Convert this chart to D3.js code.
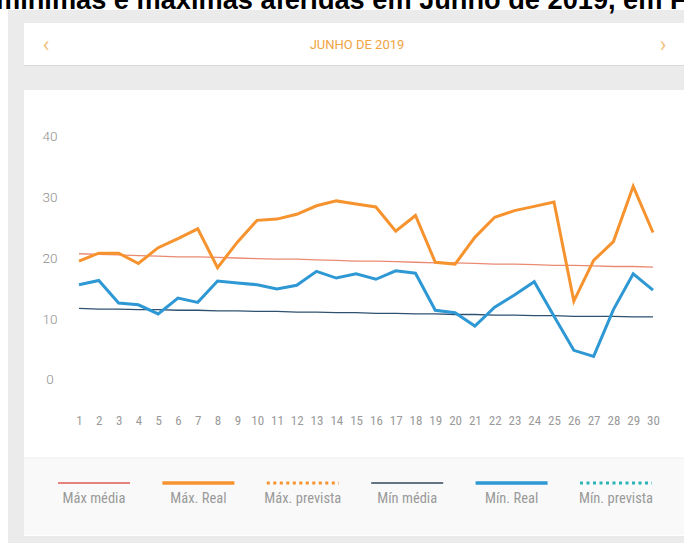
<!DOCTYPE html>
<html>
<head>
<meta charset="utf-8">
<script src="https://cdn.jsdelivr.net/npm/d3@7/dist/d3.min.js"></script>
<style>
  body { margin:0; background:#fff; overflow:hidden; }
  svg { display:block; }
</style>
</head>
<body>
<div id="chart"></div>
<script>
// dados - temperaturas junho 2019
var dias = d3.range(1, 31);
var maxReal = [19.5,20.8,20.8,19.1,21.7,23.2,24.8,18.4,22.6,26.2,26.4,27.2,28.6,29.4,28.9,
               28.4,24.4,27.0,19.3,19.0,23.4,26.7,27.8,28.5,29.2,12.9,19.6,22.7,31.8,24.2];
var minReal = [15.6,16.3,12.6,12.3,10.8,13.4,12.7,16.2,15.9,15.6,14.9,15.5,17.8,16.7,17.4,
               16.5,17.9,17.5,11.4,11.0,8.8,11.9,13.9,16.1,10.4,4.8,3.8,11.5,17.4,14.7];
var maxMedia = [20.7,20.6,20.5,20.4,20.3,20.2,20.2,20.1,20.0,19.9,19.8,19.8,19.7,19.6,19.5,
                19.5,19.4,19.3,19.2,19.2,19.1,19.0,19.0,18.9,18.8,18.8,18.7,18.6,18.6,18.5];
var minMedia = [11.7,11.6,11.6,11.5,11.5,11.4,11.4,11.3,11.3,11.2,11.2,11.1,11.1,11.0,11.0,
                10.9,10.9,10.8,10.8,10.7,10.7,10.6,10.6,10.5,10.5,10.4,10.4,10.4,10.3,10.3];
var yTicks = [0,10,20,30,40];
var legenda = ['Máx média','Máx. Real','Máx. prevista','Mín média','Mín. Real','Mín. prevista'];
var corLeg = ['#dd5a55','#f6932f','#f6932f','#33475b','#2e98d4','#2bb3b8'];
var largLeg = [1.5,3.5,3,1.5,3.5,3];
var tracoLeg = [null,null,'3,3.5',null,null,'3,3.5'];

var w = 684, h = 543;
var svg = d3.select("#chart").append("svg").attr("width",w).attr("height",h);

// fundo cinza
svg.append("rect").attr("x",8).attr("y",10).attr("width",w).attr("height",h).attr("fill","#ebebeb");

// titulo (cortado no topo, como no original)
svg.append("text")
   .attr("x",-4).attr("y",9)
   .attr("font-family","Liberation Sans, Arial, sans-serif")
   .attr("font-weight","bold").attr("font-size","27.2px").attr("fill","#000")
   .text("mínimas e máximas aferidas em Junho de 2019, em F");

// cartao do cabecalho
svg.append("rect").attr("x",24).attr("y",24).attr("width",680).attr("height",42).attr("fill","#d9d9d9");
svg.append("rect").attr("x",24).attr("y",23).attr("width",680).attr("height",42).attr("fill","#fff");
var fonte = "'Roboto Condensed','Liberation Sans Narrow',Roboto,sans-serif";
svg.append("text").attr("x",46).attr("y",44).attr("dy","0.35em").attr("text-anchor","middle")
   .attr("font-family","Roboto,sans-serif").attr("font-size","22px").attr("fill","#f2c27c").text("‹");
svg.append("text").attr("x",663).attr("y",44).attr("dy","0.35em").attr("text-anchor","middle")
   .attr("font-family","Roboto,sans-serif").attr("font-size","22px").attr("fill","#f2c27c").text("›");
svg.append("text").attr("x",357).attr("y",44).attr("dy","0.35em").attr("text-anchor","middle")
   .attr("font-family","Roboto,sans-serif").attr("font-size","13px").attr("fill","#f0a444").text("JUNHO DE 2019");

// cartao principal
svg.append("rect").attr("x",24).attr("y",90).attr("width",680).attr("height",446).attr("fill","#fff");
svg.append("rect").attr("x",24).attr("y",458).attr("width",680).attr("height",77).attr("fill","#f9f9f9");
svg.append("line").attr("x1",24).attr("x2",684).attr("y1",458).attr("y2",458).attr("stroke","#efefef");

var x = d3.scaleLinear().domain([1,30]).range([79,653]);
var y = d3.scaleLinear().domain([0,40]).range([379.5,136.5]);

var yAxis = svg.append("g").attr("transform","translate(57,0)")
   .call(d3.axisLeft(y).tickValues(yTicks).tickSize(0).tickPadding(0));
yAxis.select(".domain").remove();
yAxis.selectAll("text").attr("x",-7).attr("text-anchor","middle")
   .attr("font-family","Roboto,sans-serif").attr("font-weight","300").attr("font-size","13.5px").attr("fill","#8f8f8f");

var xAxis = svg.append("g").attr("transform","translate(0,420)")
   .call(d3.axisBottom(x).tickValues(dias).tickSize(0).tickPadding(0).tickFormat(d3.format("d")));
xAxis.select(".domain").remove();
xAxis.selectAll("text").attr("dy","0.35em")
   .attr("font-family",fonte).attr("font-size","13px").attr("fill","#9a9a9a");

var linha = d3.line().x(function(d,i){ return x(dias[i]); }).y(function(d){ return y(d); });

svg.append("path").datum(maxMedia).attr("d",linha).attr("fill","none")
   .attr("stroke","#ea8a72").attr("stroke-width",1.3);
svg.append("path").datum(minMedia).attr("d",linha).attr("fill","none")
   .attr("stroke","#2f5170").attr("stroke-width",1.3);
svg.append("path").datum(maxReal).attr("d",linha).attr("fill","none")
   .attr("stroke","#f6932f").attr("stroke-width",3).attr("stroke-linejoin","miter");
svg.append("path").datum(minReal).attr("d",linha).attr("fill","none")
   .attr("stroke","#2e98d4").attr("stroke-width",3).attr("stroke-linejoin","miter");

// legenda
var lx = d3.scalePoint().domain(legenda).range([94,616]);
var itens = svg.selectAll(".leg").data(legenda).enter().append("g").attr("class","leg")
   .attr("transform",function(d){ return "translate("+lx(d)+",0)"; });
itens.append("line").attr("x1",-36).attr("x2",36).attr("y1",483).attr("y2",483)
   .attr("stroke",function(d,i){ return corLeg[i]; })
   .attr("stroke-width",function(d,i){ return largLeg[i]; })
   .attr("stroke-dasharray",function(d,i){ return tracoLeg[i]; });
itens.append("text").attr("y",498).attr("dy","0.35em").attr("text-anchor","middle")
   .attr("font-family",fonte).attr("font-size","14.5px").attr("fill","#9a9a9a")
   .text(function(d){ return d; });
</script>
</body>
</html>
